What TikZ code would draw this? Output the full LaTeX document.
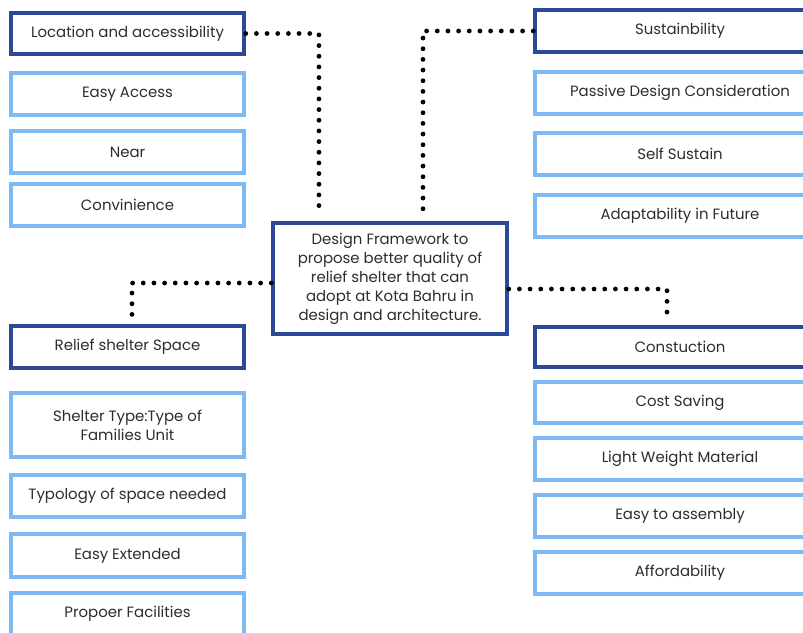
\documentclass[tikz,border=0pt]{standalone}
\usepackage{fontspec}
\setmainfont{Poppins}
\usetikzlibrary{calc}
\definecolor{darkb}{RGB}{44,72,152}
\definecolor{lightb}{RGB}{125,186,242}
\definecolor{txt}{RGB}{45,45,45}
\tikzset{
  box/.style={draw, rectangle, line width=2.6pt, fill=white, text=txt, align=center,
    inner sep=0pt, font=\fontsize{11.2}{14.3}\selectfont},
  head/.style={box, draw=darkb},
  item/.style={box, draw=lightb},
  lcol/.style={minimum width=233*0.75pt},
  rcol/.style={minimum width=290*0.75pt},
  dotline/.style={line width=3.6pt, line cap=round, dash pattern=on 0pt off 8pt, black},
}
\begin{document}
\begin{tikzpicture}[x=0.75pt,y=-0.75pt]
\useasboundingbox (0,0) rectangle (803,632);
% left column
\node[head,lcol,minimum height=41*0.75pt] (loc) at (127.5,33.5) {Location and accessibility};
\node[item,lcol,minimum height=42*0.75pt] (ea) at (127.5,94) {Easy Access};
\node[item,lcol,minimum height=42*0.75pt] (near) at (127.5,152) {Near};
\node[item,lcol,minimum height=42*0.75pt] (conv) at (127.5,205) {Convinience};
\node[head,lcol,minimum height=42*0.75pt] (rel) at (127.5,347) {Relief shelter Space};
\node[item,lcol,minimum height=64*0.75pt] (shel) at (127.5,425) {Shelter Type:Type of\\Families Unit};
\node[item,lcol,minimum height=42*0.75pt] (typ) at (127.5,496) {Typology of space needed};
\node[item,lcol,minimum height=43*0.75pt] (ext) at (127.5,555.5) {Easy Extended};
\node[item,lcol,minimum height=42*0.75pt] (fac) at (127.5,614) {Propoer Facilities};
% right column
\node[head,rcol,minimum height=42*0.75pt] (sus) at (680,31) {Sustainbility};
\node[item,rcol,minimum height=42*0.75pt] (pas) at (680,93) {Passive Design Consideration};
\node[item,rcol,minimum height=42*0.75pt] (self) at (680,154) {Self Sustain};
\node[item,rcol,minimum height=42*0.75pt] (adap) at (680,216) {Adaptability in Future};
\node[head,rcol,minimum height=40*0.75pt] (con) at (680,347) {Constuction};
\node[item,rcol,minimum height=41*0.75pt] (cost) at (680,402.5) {Cost Saving};
\node[item,rcol,minimum height=42*0.75pt] (lw) at (680,459) {Light Weight Material};
\node[item,rcol,minimum height=42*0.75pt] (asm) at (680,516) {Easy to assembly};
\node[item,rcol,minimum height=42*0.75pt] (aff) at (680,573) {Affordability};
% center
\node[head,minimum width=234*0.75pt,minimum height=111*0.75pt] (ctr) at (390,278.5)
  {Design Framework to\\propose better quality of\\relief shelter that can\\adopt at Kota Bahru in\\design and architecture.};
% connectors
\coordinate (c1) at (319,213);
\coordinate (c2) at (423,213);
\draw[dotline] (loc.east) -| (c1);
\draw[dotline] (sus.west) -| (c2);
\draw[dotline] ($(ctr.west)+(0,4.5)$) -| ($(rel.north)+(4.5,-3)$);
\draw[dotline] ($(ctr.east)+(0,10.5)$) -| ($(con.north)+(-13,-5)$);
\end{tikzpicture}
\end{document}
